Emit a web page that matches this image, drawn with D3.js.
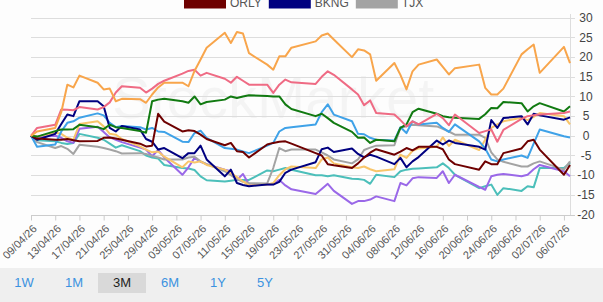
<!DOCTYPE html>
<meta charset="utf-8">
<head>
<script src="https://cdnjs.cloudflare.com/ajax/libs/d3/7.8.5/d3.min.js"></script>
<style type="text/css">
body {
  margin: 0;
  background: #fdfdfd;
  font-family: "Liberation Sans", Arial, sans-serif;
}
.grid line { stroke: #dddddd; shape-rendering: crispEdges; }
.axis text { fill: #444; font-size: 12px; }
.xaxis text { fill: #555; font-size: 11px; }
.legend text { fill: #555; font-size: 12px; }
.btn { font-size: 13px; fill: #3b92e0; text-anchor: middle; }
.btn.active { fill: #222; }
</style>
</head>
<body>
<div id="chart"></div>
<script>

// trading days shown (3M)
var dates = ["2026-04-09","2026-04-10","2026-04-13","2026-04-14","2026-04-15","2026-04-16","2026-04-17",
  "2026-04-20","2026-04-21","2026-04-22","2026-04-23","2026-04-24","2026-04-27","2026-04-28","2026-04-29",
  "2026-04-30","2026-05-01","2026-05-04","2026-05-05","2026-05-06","2026-05-07","2026-05-08","2026-05-11",
  "2026-05-12","2026-05-13","2026-05-14","2026-05-15","2026-05-18","2026-05-19","2026-05-20","2026-05-21",
  "2026-05-22","2026-05-26","2026-05-27","2026-05-28","2026-05-29","2026-06-01","2026-06-02","2026-06-03",
  "2026-06-04","2026-06-05","2026-06-08","2026-06-09","2026-06-10","2026-06-11","2026-06-12","2026-06-15",
  "2026-06-16","2026-06-17","2026-06-18","2026-06-22","2026-06-23","2026-06-24","2026-06-25","2026-06-26",
  "2026-06-29","2026-06-30","2026-07-01","2026-07-02","2026-07-06","2026-07-07"];

// % change per series
var orange = [0,1.1,2,6,13,12.3,15.3,13.5,11.8,12,8.8,9.4,9.3,8.4,10.5,12.3,13.5,13.5,12.6,16.5,19.4,22.4,
  26.2,23.6,26.4,26,21,18.1,16.8,20.2,20.2,22.4,24,25.5,26,24.5,20,22,21.7,20.7,14,18.5,15.5,11.8,16.4,18.1,
  19.4,17.5,15.6,17.2,18.1,12.2,10.5,10.5,12,20.7,22,23.2,16,22.6,18.5];
var pink = [0,2,2.8,6.7,6.6,6.5,7.3,6.7,7.3,8.5,11,12.6,12.2,11,12,13.2,14,15.8,16.5,16.8,15.3,16,14.5,13.5,
  15,14,13,13,10.9,13,14.3,13.6,13.2,15,16.4,15.5,11.8,10.5,7.8,9,5.8,5.4,4,2.4,3.7,2.9,5.6,4.5,2.7,5.4,0.7,
  1.2,1.6,-1.5,1.5,4.3,5,5.2,5.4,5.8,6.2];
var green = [0,-0.2,1.2,1.6,1.6,1.7,2.8,2.2,1.7,2.8,2.2,2,1.2,0.8,8.8,9.2,9.4,8.8,8.4,10,8,8.6,9.2,10,9.6,10,
  10.3,10.1,10,10,8,6.8,5,5.6,4.5,3.3,1,-0.5,-0.4,-1.8,-1,-1.4,2,2.9,6,6.9,5.6,5,4.7,4.6,4.3,5.5,7.1,7,8.6,
  8.3,6.2,7.5,8.3,6.2,7.5];
var orly = [0,-0.7,-1,-1,-0.8,-1.1,-1.4,-1.3,-0.5,-0.4,-0.7,-1,-2,-2.7,-2.5,5.6,3.6,1.1,1.4,1.2,0.3,-0.8,-2.4,
  -1.8,-3.9,-4.1,-5.5,-2.2,-1.8,-1.5,-1.4,-2,-4.4,-5,-7.2,-7.5,-8.2,-7,-5.5,-4.3,-3.4,-4.8,-4,-3.1,-3.7,-2.8,
  -2.8,-3.4,-6,-7.2,-8.6,-6.5,-7.2,-7.2,-4.4,-3.2,-1.4,-1,-3.5,-9.9,-7.4];
var bkng = [0,-1,0.5,3,5.4,5,8.8,8.8,7.5,2,1.1,2.5,1.6,-0.8,-1.5,-3.5,-3.1,-5.7,-4.4,-4.4,-2.5,-6,-10.3,-8.6,
  -12,-12.5,-12.8,-12.4,-12.4,-11.7,-9.4,-8.6,-6.7,-3.4,-3,-4.1,-3.2,-4.6,-5.5,-4.8,-5.3,-7.2,-5.6,-8,-6.5,
  -5.4,-1.2,-2.2,-1.2,-1.8,-2.8,-3.5,4,2,4.5,5,2.9,5.6,5.2,4.1,4.7];
var tjx = [0,-1.6,-3.1,-2.6,-3.3,-4.6,-2.3,-2.8,-3.1,-3.5,-3.9,-4.5,-4.4,-4.6,-5.1,-5.5,-6,-6,-5.5,-5.3,-6.5,
  -7.2,-9,-10,-11,-11.7,-12,-12.1,-8.2,-3.1,-3.9,-3.5,-3.5,-4.2,-5,-6,-7,-6,-3.6,-3,-2.5,-2.4,2,2.4,2.8,2.7,
  2.4,1.8,1.1,0.3,0.3,-0.5,-4.2,-6,-6.6,-7.8,-7.8,-7,-6.5,-8.6,-6.5];
var blue = [0,-2.8,-2.2,1.1,3.3,3.7,4.6,5.7,5.2,3.3,2.2,2.5,2.2,1.6,2,1.1,1,-1.5,-1.6,0.7,1.3,-0.5,-3.1,-3.3,
  -3.5,-4,-4.4,-2.5,-1.8,1.1,2,2.2,2.9,6,8,5.4,3.7,0.5,0.4,-0.5,-1,-1.2,2.2,0.7,3.7,2.9,3.3,2,1,2.9,-1.4,-3.2,
  -6,-6.5,-6,-5,-5.6,-2,1.6,-0.1,-0.4];
var purple = [0,-0.3,0,-0.5,-1.4,-1.8,1.8,2.3,1,-0.4,-1,-1.6,-3,-3.5,-5.2,-3.6,-5.5,-9.9,-8,-5.6,-6.6,-7.2,
  -8.6,-9,-11.2,-9.7,-12.4,-12.4,-12.3,-11.2,-12.6,-13.6,-14.8,-13.5,-12.2,-14,-17.3,-16.6,-16.6,-16.2,-15.4,
  -16.6,-12,-12.6,-10.8,-10.5,-10.7,-9,-12,-9.9,-13,-13.7,-10.3,-9.9,-9.7,-10.3,-9.9,-8.5,-7.4,-9,-10.3];
var teal = [0,-1.1,-1.4,-1.8,-2.1,-1.8,0.5,-0.5,-1,-2,-3,-2.4,-3.9,-5,-5.5,-5.8,-7.4,-8.2,-8.3,-8.7,-10.3,
  -11.3,-11.6,-11.4,-11.2,-11.2,-11.2,-8.8,-9,-8.6,-8.2,-8.6,-10,-10,-10.3,-10,-10.9,-11,-11.2,-12.2,-9.9,
  -10.5,-9,-8.6,-8.4,-8.3,-8,-7,-8.2,-9.9,-13.3,-12.8,-12.4,-15,-13.3,-14,-12.8,-13.1,-8.2,-8.2,-6.9];
var yellow = [0,-0.2,0.8,0.5,-0.5,-1,3,3.7,2.4,0.5,0.3,-0.8,-2.7,-3.5,-4.2,-4,-5.3,-8,-6.5,-6.8,-6.5,-7.4,
  -8.6,-9.5,-10.5,-11.6,-12.6,-12.4,-12,-10,-8.5,-7.8,-8.2,-6,-5.5,-7,-8,-8.2,-7.8,-8.5,-9,-8.5,-4.8,-5.6,
  -3.8,-3.2,-2.8,-0.4,-2.6,-1,-3.6,-1,2,2.9,3.7,4.6,4,4.8,5.8,5,2.9];

var tickDates = ["2026-04-09","2026-04-13","2026-04-17","2026-04-21","2026-04-25","2026-04-29","2026-05-03",
  "2026-05-07","2026-05-11","2026-05-15","2026-05-19","2026-05-23","2026-05-27","2026-05-31","2026-06-04",
  "2026-06-08","2026-06-12","2026-06-16","2026-06-20","2026-06-24","2026-06-28","2026-07-02","2026-07-06"];
var yTicks = [-20,-15,-10,-5,0,5,10,15,20,25,30];
var legendNames = ["ORLY","BKNG","TJX"];
var legendColors = ["#6e0000","#000080","#a3a3a3"];
var ranges = ["1W","1M","3M","6M","1Y","5Y"];

var series = [
  {name: "teal", values: teal, color: "#4cbfba"},
  {name: "purple", values: purple, color: "#9a68e8"},
  {name: "TJX", values: tjx, color: "#a3a3a3"},
  {name: "yellow", values: yellow, color: "#f8c56a"},
  {name: "blue", values: blue, color: "#3fa2e8"},
  {name: "BKNG", values: bkng, color: "#000080"},
  {name: "ORLY", values: orly, color: "#6e0000"},
  {name: "green", values: green, color: "#117a11"},
  {name: "pink", values: pink, color: "#ef6b84"},
  {name: "orange", values: orange, color: "#f8a54b"}
];

var W = 603, H = 302;
var parse = d3.utcParse("%Y-%m-%d");
var fmt = d3.utcFormat("%d/%m/%y");

var svg = d3.select("#chart").append("svg")
    .attr("width", W)
    .attr("height", H);

// bottom button bar
svg.append("rect").attr("x", 0).attr("y", 268).attr("width", W).attr("height", H - 268).attr("fill", "#efefef");

var x = d3.scaleUtc()
    .domain([parse("2026-04-09"), parse("2026-07-07")])
    .range([31, 570]);
var y = d3.scaleLinear()
    .domain([-20, 30])
    .range([214.5, 17.8]);

// watermark
svg.append("text")
    .attr("x", 112).attr("y", 118)
    .attr("font-size", 58)
    .attr("fill", "#000").attr("fill-opacity", 0.035)
    .text("StockMarket");

// grid
svg.append("g").attr("class", "grid")
  .selectAll("line").data(yTicks).enter().append("line")
    .attr("x1", 31).attr("x2", 575)
    .attr("y1", function(d) { return Math.round(y(d)) + 0.5; })
    .attr("y2", function(d) { return Math.round(y(d)) + 0.5; })
    .style("stroke", function(d) { return d == -20 ? "#cccccc" : "#dddddd"; });

svg.append("line")
    .attr("x1", 570.5).attr("x2", 570.5)
    .attr("y1", 14).attr("y2", 215)
    .attr("stroke", "#dddddd");

// right axis labels
svg.append("g").attr("class", "axis")
  .selectAll("text").data(yTicks).enter().append("text")
    .attr("x", 586)
    .attr("y", function(d) { return y(d); })
    .attr("dy", "0.35em")
    .attr("text-anchor", "middle")
    .text(function(d) { return d; });

// x axis
var xa = svg.append("g").attr("class", "xaxis")
    .attr("transform", "translate(0," + (Math.round(y(-20)) + 0.5) + ")")
    .call(d3.axisBottom(x)
      .tickValues(tickDates.map(parse))
      .tickFormat(fmt)
      .tickSize(5)
      .tickSizeOuter(0));
xa.select(".domain").remove();
xa.selectAll(".tick line").attr("stroke", "#cccccc");
xa.selectAll(".tick text")
    .attr("y", 0).attr("x", 0).attr("dy", 0)
    .attr("transform", "translate(6,14) rotate(-45)")
    .style("text-anchor", "end")
    .attr("font-family", null);

// lines
var line = d3.line()
    .x(function(d, i) { return x(parse(dates[i])); })
    .y(function(d) { return y(d); });

svg.append("g").selectAll("path").data(series).enter().append("path")
    .attr("d", function(s) { return line(s.values); })
    .attr("fill", "none")
    .attr("stroke", function(s) { return s.color; })
    .attr("stroke-width", 2)
    .attr("stroke-linejoin", "round");

// legend (last visible row)
var lg = svg.append("g").attr("class", "legend");
var lx = 184;
legendNames.forEach(function(n, i) {
  lg.append("rect").attr("x", lx).attr("y", -4).attr("width", 42).attr("height", 12.5)
    .attr("fill", legendColors[i]);
  var t = lg.append("text").attr("x", lx + 46).attr("y", 6.5).text(n);
  lx += 46 + t.node().getComputedTextLength() + 7;
});

// range buttons
var bx = [24, 74, 122, 170, 218, 265];
svg.append("rect").attr("x", 98).attr("y", 273).attr("width", 48).attr("height", 20).attr("fill", "#d9d9d9");
svg.selectAll(".btn").data(ranges).enter().append("text")
    .attr("class", function(d) { return d == "3M" ? "btn active" : "btn"; })
    .attr("x", function(d, i) { return bx[i]; })
    .attr("y", 287)
    .text(function(d) { return d; });

</script>
</body>
